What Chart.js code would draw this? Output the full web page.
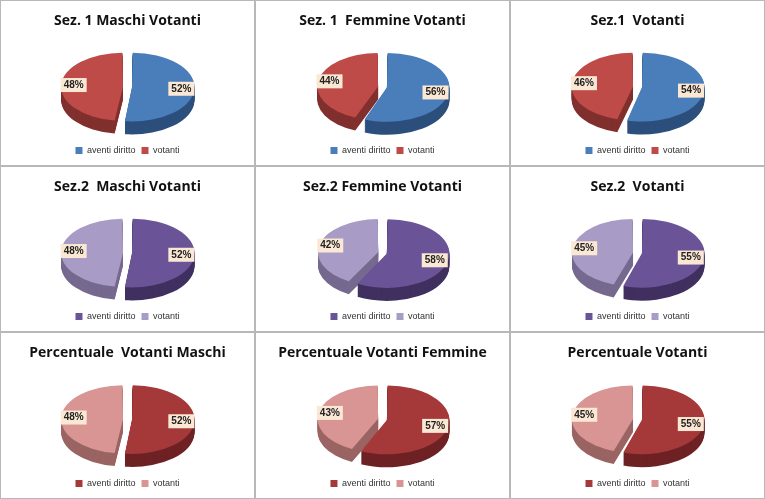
<!DOCTYPE html>
<html>
<head>
<meta charset="utf-8">
<script src="https://cdn.jsdelivr.net/npm/chart.js@4"></script>
<style>
body { margin: 0; background: #fff; }
#grid { display: grid; grid-template-columns: 255px 255px 255px; grid-template-rows: 166px 166px 167px; width: 765px; height: 499px; }
.cell { box-sizing: border-box; border: 1px solid #b8b8b8; position: relative; }
canvas { position: absolute; left: 0; top: 0; }
</style>
</head>
<body>
<div id="grid"></div>
<script>
var titles = ["Sez. 1 Maschi Votanti", "Sez. 1  Femmine Votanti", "Sez.1  Votanti",
              "Sez.2  Maschi Votanti", "Sez.2 Femmine Votanti", "Sez.2  Votanti",
              "Percentuale  Votanti Maschi", "Percentuale Votanti Femmine", "Percentuale Votanti"];
var categories = ["aventi diritto", "votanti"];
var avente = [52, 56, 54, 52, 58, 55, 52, 57, 55];
var votanti = [48, 44, 46, 48, 42, 45, 48, 43, 45];

var rowColors = [["#4a7ebb", "#be4b48"], ["#6a5497", "#a89cc6"], ["#a5393a", "#d99594"]];
var rowSides = [["#2c4f7c", "#80302e"], ["#403060", "#76698f"], ["#6e2224", "#9a6463"]];

var SQ = 0.55, DEPTH = 13, SHIFT = 0;

var pie3d = {
  id: 'pie3d',
  beforeDatasetsDraw: function(chart) {
    var ctx = chart.ctx, a = chart.chartArea, meta = chart.getDatasetMeta(0);
    var cx = (a.left + a.right) / 2, cy = (a.top + a.bottom) / 2, ty = cy + SHIFT;
    var sides = chart.options.plugins.pie3d.sides;
    for (var d = DEPTH; d >= 1; d--) {
      ctx.save();
      ctx.translate(cx, ty + d);
      ctx.scale(1, SQ);
      ctx.translate(-cx, -cy);
      meta.data.forEach(function(el, i) {
        var o = el.options, bg = o.backgroundColor;
        o.backgroundColor = sides[i];
        el.draw(ctx);
        o.backgroundColor = bg;
      });
      ctx.restore();
    }
    ctx.save();
    ctx.translate(cx, ty);
    ctx.scale(1, SQ);
    ctx.translate(-cx, -cy);
  },
  afterDatasetsDraw: function(chart) {
    var ctx = chart.ctx, a = chart.chartArea, meta = chart.getDatasetMeta(0);
    ctx.restore();
    var cx = (a.left + a.right) / 2, cy = (a.top + a.bottom) / 2, ty = cy + SHIFT;
    var vals = chart.data.datasets[0].data;
    ctx.save();
    ctx.font = 'bold 10px "Liberation Sans", Arial';
    ctx.textAlign = 'center';
    ctx.textBaseline = 'middle';
    meta.data.forEach(function(el, i) {
      var p = el.getProps(['x', 'y', 'startAngle', 'endAngle', 'outerRadius']);
      var mid = (p.startAngle + p.endAngle) / 2;
      var off = el.options.offset || 0;
      var r = p.outerRadius * 0.62 + off;
      var x = p.x + Math.cos(mid) * r;
      var y = ty + Math.sin(mid) * r * SQ;
      var txt = vals[i] + '%';
      var w = ctx.measureText(txt).width + 6;
      ctx.fillStyle = '#fbe8d4';
      ctx.fillRect(x - w / 2, y - 7, w, 14);
      ctx.fillStyle = '#222';
      ctx.fillText(txt, x, y);
    });
    ctx.restore();
  }
};

var grid = document.getElementById('grid');
for (var k = 0; k < 9; k++) {
  var row = Math.floor(k / 3);
  var cell = document.createElement('div');
  cell.className = 'cell';
  var cv = document.createElement('canvas');
  cv.width = 253; cv.height = row == 2 ? 165 : 164;
  cell.appendChild(cv);
  grid.appendChild(cell);
  new Chart(cv.getContext('2d'), {
    type: 'pie',
    plugins: [pie3d],
    data: {
      labels: categories,
      datasets: [{
        data: [avente[k], votanti[k]],
        backgroundColor: rowColors[row],
        borderWidth: 0,
        radius: 58,
        offset: 18,
        clip: false
      }]
    },
    options: {
      responsive: false,
      animation: false,
      layout: { padding: { top: 8, bottom: 0 } },
      plugins: {
        pie3d: { sides: rowSides[row] },
        tooltip: { enabled: false },
        title: {
          display: true, text: titles[k], color: '#111',
          font: { family: '"Open Sans", Arial', size: 14, weight: 'bold' },
          padding: { top: 4, bottom: 4 }
        },
        legend: {
          position: 'bottom',
          labels: { boxWidth: 7, boxHeight: 7, padding: 6, color: '#333',
                    font: { family: '"Liberation Sans", Arial', size: 9 } }
        }
      }
    }
  });
}
</script>
</body>
</html>
